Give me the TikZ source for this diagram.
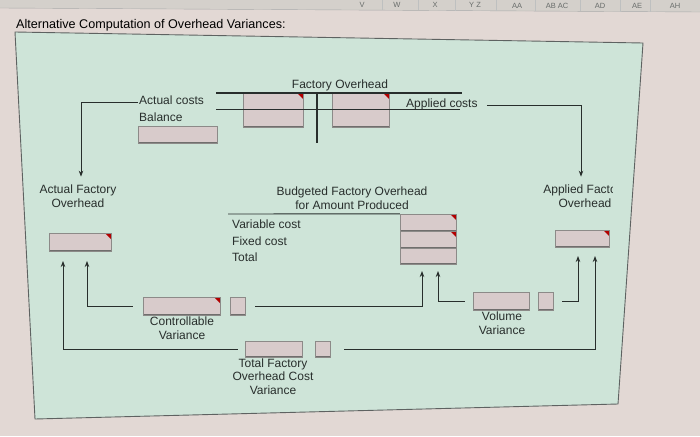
\documentclass[tikz,border=0pt]{standalone}
\usepackage{fontspec}
\setmainfont{Liberation Sans}
\usetikzlibrary{arrows.meta}
\definecolor{screen}{RGB}{226,216,212}
\definecolor{headerbg}{RGB}{212,208,203}
\definecolor{panel}{RGB}{206,228,216}
\definecolor{cellfill}{RGB}{216,203,203}
\definecolor{celledge}{RGB}{140,138,136}
\definecolor{ink}{RGB}{40,46,44}
\begin{document}
\begin{tikzpicture}[x=1pt, y=-1pt, >={Stealth[length=6pt,width=4.5pt]},
    cell/.style={draw=celledge, fill=cellfill, inner sep=0pt,
      path picture={\draw[celledge!80!black, line width=1.4pt]
        (path picture bounding box.south west) -- (path picture bounding box.south east);}},
    redcell/.style={cell,
      path picture={\draw[celledge!80!black, line width=1.4pt]
        (path picture bounding box.south west) -- (path picture bounding box.south east);
        \fill[red!70!black] ([xshift=-6pt]path picture bounding box.north east)
        -- (path picture bounding box.north east)
        -- ([yshift=-6pt]path picture bounding box.north east) -- cycle;}},
    link/.style={->, ink, line width=0.9pt},
    lbl/.style={font=\fontsize{12}{13.5}\selectfont, text=ink, inner sep=0pt, align=center},
    colname/.style={font=\fontsize{7.5}{8}\selectfont, text=ink!70, inner sep=0pt}]
  \useasboundingbox (0,0) rectangle (700,436);
  \fill[screen] (0,0) rectangle (700,436);

  % Spreadsheet header, cut off at the top
  \fill[headerbg] (0,0) -- (700,0) -- (700,12) -- (0,8) -- cycle;
  \draw[ink!40] (0,8) -- (700,12);
  \foreach \cx in {382,418,455,496,535,580,620,650}
    \draw[ink!30] (\cx,0) -- (\cx,{8+\cx*4/700});
  \node[colname] (colv) at (362,5) {V};
  \node[colname] (colw) at (397,5) {W};
  \node[colname] (colx) at (435,5) {X};
  \node[colname] (colyz) at (475,5) {Y Z};
  \node[colname] (colaa) at (517,5.5) {AA};
  \node[colname] (colabac) at (557,5.5) {AB AC};
  \node[colname] (colad) at (600,5.5) {AD};
  \node[colname] (colae) at (637,5.5) {AE};
  \node[colname] (colah) at (675,5.5) {AH};

  % Panel
  \filldraw[fill=panel, draw=ink!75, line width=0.9pt] (15,32) -- (643,43) -- (618,404) -- (35,419) -- cycle;
  \node[lbl, anchor=west, font=\fontsize{12.6}{14}\selectfont, text=black] (title) at (16,25)
    {Alternative Computation of Overhead Variances:};

  % T account
  \node[lbl] (fo) at (340,85) {Factory Overhead};
  \node[redcell, minimum width=60pt, minimum height=34pt] (foleft) at (273,110) {};
  \node[redcell, minimum width=57pt, minimum height=34pt] (foright) at (360.5,110) {};
  \draw[ink, line width=1.8pt] (216,93) -- (462,93);
  \draw[ink, line width=1.8pt] (317,93) -- (317,143);
  \draw[ink, line width=0.9pt] (216,109.5) -- (460,109.5);
  \node[lbl, anchor=west] (ac) at (139,100) {Actual costs};
  \node[lbl, anchor=west] (bal) at (139,117) {Balance};
  \node[cell, minimum width=79pt, minimum height=17pt] (balbox) at (177.5,134.5) {};
  \node[lbl, anchor=west] (apc) at (406,104) {Applied costs};

  % Side accounts
  \node[lbl] (afolbl) at (78,196) {Actual Factory\\Overhead};
  \begin{scope}
    \clip (520,170) rectangle (612,215);
    \node[lbl] (apflbl) at (585,196) {Applied Factory\\Overhead};
  \end{scope}
  \node[redcell, minimum width=62pt, minimum height=18pt] (afo) at (80,242) {};
  \node[redcell, minimum width=54pt, minimum height=17pt] (apf) at (582,238.5) {};
  \draw[link, shorten <=1pt] ([yshift=-2pt]ac.west) -| ([xshift=3pt, yshift=8pt]afolbl.north);
  \draw[link, shorten <=9pt] ([yshift=-1pt]apc.east) -| ([xshift=-4pt, yshift=8pt]apflbl.north);

  % Budget for amount produced
  \node[lbl] (bfo) at (352,198) {Budgeted Factory Overhead\\for Amount Produced};
  \node[redcell, minimum width=56pt, minimum height=17pt] (bud1) at (428,222.5) {};
  \node[redcell, minimum width=56pt, minimum height=17pt] (bud2) at (428,239.5) {};
  \node[cell, minimum width=56pt, minimum height=16pt] (bud3) at (428,256) {};
  \draw[ink, line width=0.9pt] (228,214) -- (bud1.north west);
  \node[lbl, anchor=west] (var) at (232,224) {Variable cost};
  \node[lbl, anchor=west] (fix) at (232,241) {Fixed cost};
  \node[lbl, anchor=west] (tot) at (232,257) {Total};

  % Variances
  \node[redcell, minimum width=77pt, minimum height=18pt] (cv) at (181.5,306) {};
  \node[cell, minimum width=15pt, minimum height=18pt] (cvs) at (237.5,306) {};
  \node[lbl] (cvlbl) at (182,328) {Controllable\\Variance};
  \node[cell, minimum width=57pt, minimum height=16pt] (tfcv) at (273.5,349) {};
  \node[cell, minimum width=15pt, minimum height=16pt] (tfcvs) at (322.5,349) {};
  \node[lbl] (tfcvlbl) at (273,376.5) {Total Factory\\Overhead Cost\\Variance};
  \node[cell, minimum width=56pt, minimum height=18pt] (vv) at (501,301) {};
  \node[cell, minimum width=15pt, minimum height=18pt] (vvs) at (545.5,301) {};
  \node[lbl] (vvlbl) at (502,323) {Volume\\Variance};

  % Arrow ends under the accounts
  \coordinate (afoin1) at (63,261);
  \coordinate (afoin2) at (87,261);
  \coordinate (budin1) at (422,271);
  \coordinate (budin2) at (438,271);
  \coordinate (apfin1) at (578,256);
  \coordinate (apfin2) at (595,256);

  % Connectors
  \draw[link, shorten <=7pt] (tfcv.west) -| (afoin1);
  \draw[link, shorten <=10pt] (cv.west) -| (afoin2);
  \draw[link, shorten <=10pt] (cvs.east) -| (budin1);
  \draw[link, shorten <=8pt] (vv.west) -| (budin2);
  \draw[link, shorten <=9pt] (vvs.east) -| (apfin1);
  \draw[link, shorten <=14pt] (tfcvs.east) -| (apfin2);
\end{tikzpicture}
\end{document}
